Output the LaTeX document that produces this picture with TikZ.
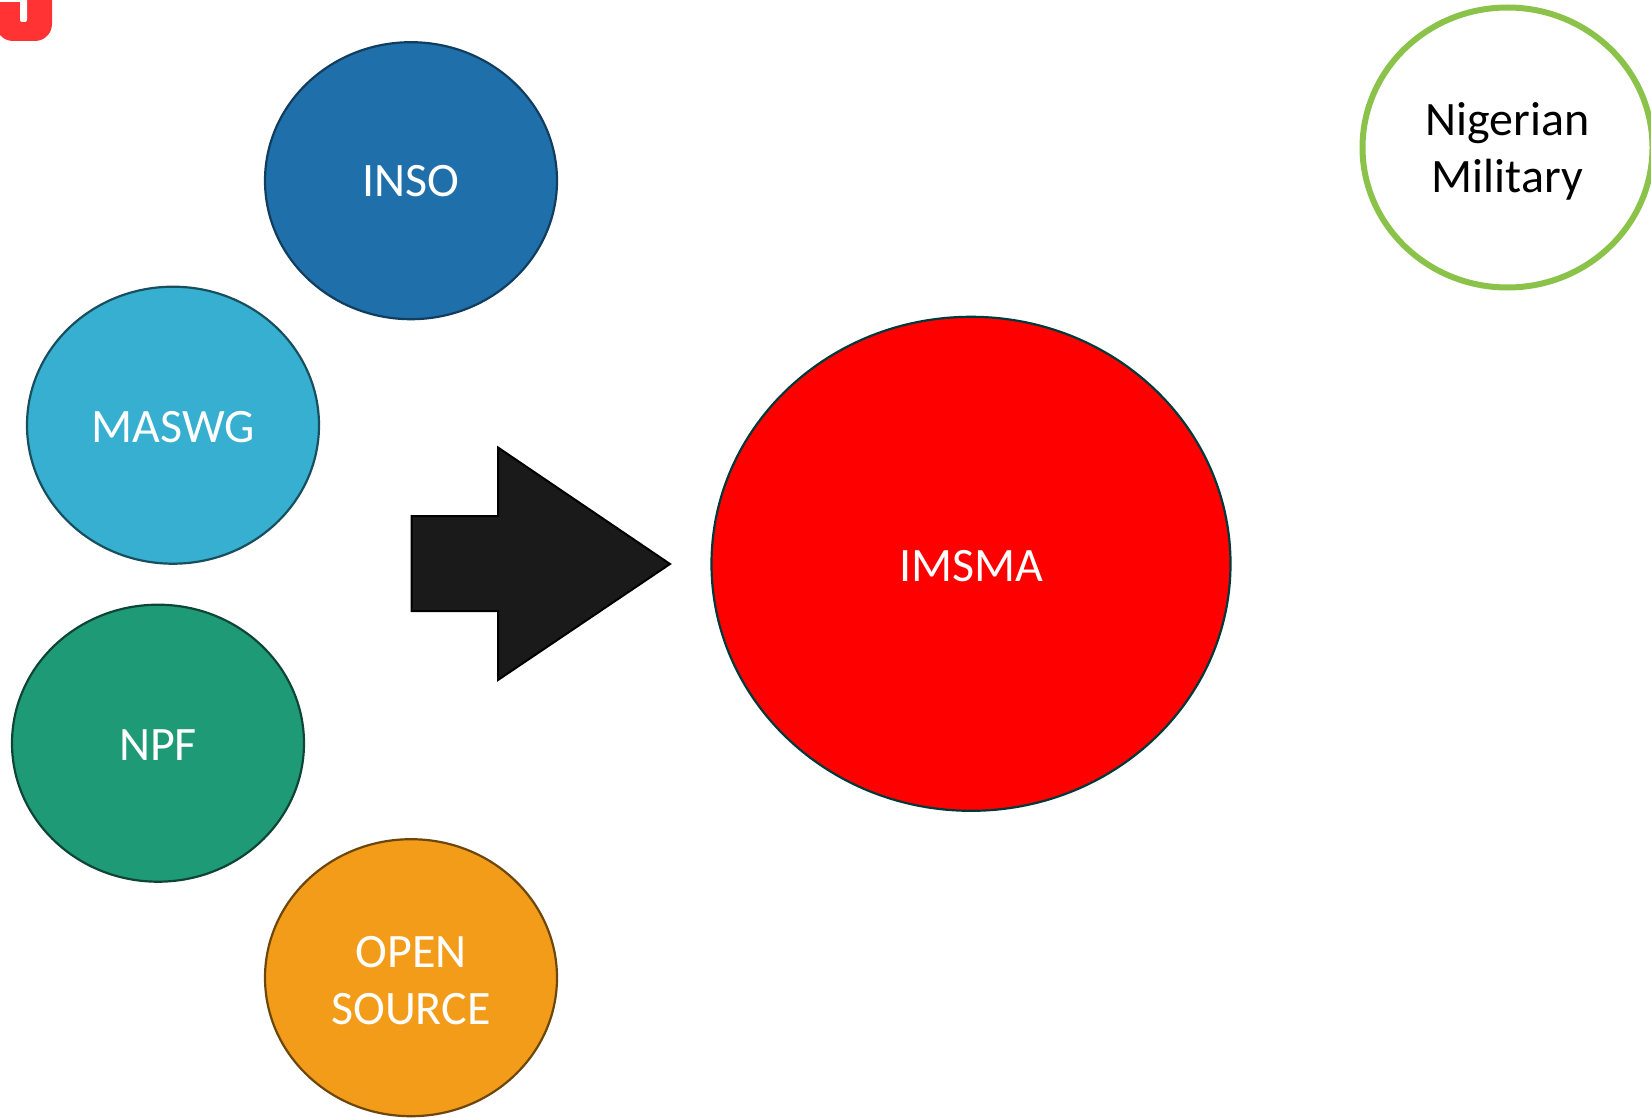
\documentclass[tikz,border=0pt]{standalone}
\usepackage{fontspec}
\setmainfont{Carlito}
\usetikzlibrary{shapes.geometric}
\definecolor{insoC}{HTML}{1F6FAB}
\definecolor{maswgC}{HTML}{36AFD1}
\definecolor{npfC}{HTML}{1F9A77}
\definecolor{openC}{HTML}{F39C19}
\definecolor{armC}{HTML}{1A1A1A}
\definecolor{milC}{HTML}{8BC34A}
\definecolor{logoC}{HTML}{FF3333}
\tikzset{
  x=1pt,y=-1pt,
  blob/.style={ellipse,inner sep=0pt,line width=2.2pt,minimum width=292pt,minimum height=277pt},
  lbl/.style={inner sep=0pt,align=center,text=white,font=\fontsize{48}{57}\selectfont},
}
\begin{document}
\begin{tikzpicture}
\useasboundingbox (0,0) rectangle (1651,1118);
\clip (0,0) rectangle (1651,1118);
\fill[logoC,rounded corners=17pt] (-4,-30) rectangle (52,41);
\fill[white] (0,-5) rectangle (27,2);
\fill[white,rounded corners=2pt] (20,-2) rectangle (27,22);
\node[blob,draw=insoC!55!black,fill=insoC] (inso) at (411,180.7) {};
\node[lbl] (insoT) at ([yshift=-0.5pt]inso.center) {INSO};
\node[blob,draw=maswgC!45!black,fill=maswgC] (maswg) at (173,425.2) {};
\node[lbl] (maswgT) at ([yshift=-1.5pt]maswg.center) {MASWG};
\node[blob,draw=npfC!45!black,fill=npfC] (npf) at (158,743.2) {};
\node[lbl] (npfT) at ([yshift=-1.5pt]npf.center) {NPF};
\node[blob,draw=openC!45!black,fill=openC] (open) at (411,977.7) {};
\node[lbl] (openT) at ([yshift=-2.5pt]open.center) {OPEN\\SOURCE};
\node[blob,draw=black!55!teal,fill=red,minimum width=519pt,minimum height=494pt] (imsma) at (971,563.8) {};
\node[lbl] (imsmaT) at ([yshift=-2pt]imsma.center) {IMSMA};
\node[blob,draw=milC,fill=white,line width=6pt,minimum width=290pt,minimum height=280pt] (mil) at (1507.5,147.5) {};
\node[lbl,text=black] (milT) at ([yshift=-4pt]mil.center) {Nigerian\\Military};
\draw[black,fill=armC,line width=2pt,miter limit=10] (411.5,516) -- (498,516) -- (498,447.5) -- (670,564) -- (498,680) -- (498,611) -- (411.5,611) -- cycle;
\end{tikzpicture}
\end{document}
